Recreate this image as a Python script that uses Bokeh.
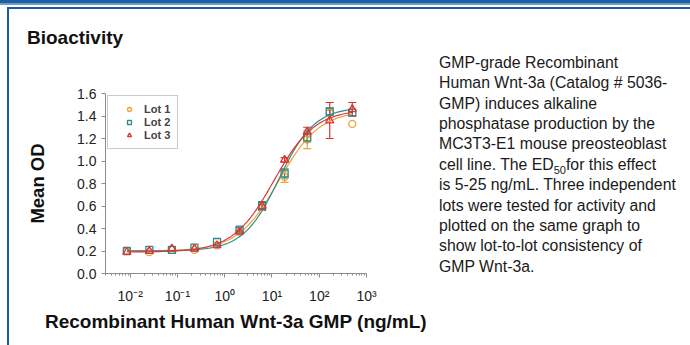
import math
import numpy as np
from bokeh.plotting import figure
from bokeh.layouts import row, column
from bokeh.models import (Range1d, FixedTicker, CustomJSTickFormatter, Div,
                          ColumnDataSource, Whisker, TeeHead, Legend, LegendItem)
from bokeh.embed import file_html
from bokeh.resources import INLINE

# ---------------- data ----------------
conc = [0.0085, 0.0254, 0.0762, 0.229, 0.686, 2.06, 6.17, 18.5, 55.6, 166.7, 500.0]
lot1 = [0.20, 0.19, 0.21, 0.21, 0.25, 0.37, 0.59, 0.86, 1.19, 1.43, 1.33]
lot2 = [0.20, 0.21, 0.21, 0.23, 0.28, 0.39, 0.60, 0.89, 1.21, 1.44, 1.43]
lot3 = [0.19, 0.20, 0.22, 0.22, 0.25, 0.37, 0.60, 1.01, 1.26, 1.36, 1.46]
err1 = [0, 0, 0, 0, 0, 0.01, 0.02, 0.05, 0.08, 0.02, 0]
err2 = [0, 0, 0, 0, 0, 0.02, 0.04, 0.04, 0.04, 0.03, 0.03]
err3 = [0, 0, 0, 0, 0, 0.01, 0.03, 0.02, 0.04, 0.16, 0.06]
# four-parameter logistic fit parameters per lot: bottom, top, EC50, Hill slope
fit1 = [0.20, 1.45, 14.0, 1.00]
fit2 = [0.20, 1.48, 14.0, 1.15]
fit3 = [0.19, 1.46, 11.0, 1.00]
lot_names = ["Lot 1", "Lot 2", "Lot 3"]
x_ticks = [0.01, 0.1, 1, 10, 100, 1000]
y_ticks = [0.0, 0.2, 0.4, 0.6, 0.8, 1.0, 1.2, 1.4, 1.6]
title_text = "Bioactivity"
x_label = "Recombinant Human Wnt-3a GMP (ng/mL)"
y_label = "Mean OD"
desc_lines = [
    "GMP-grade Recombinant",
    "Human Wnt-3a (Catalog # 5036-",
    "GMP) induces alkaline",
    "phosphatase production by the",
    "MC3T3-E1 mouse preosteoblast",
    "cell line. The ED<span style='font-size:11px;position:relative;top:4px;'>50</span>for this effect",
    "is 5-25 ng/mL. Three independent",
    "lots were tested for activity and",
    "plotted on the same graph to",
    "show lot-to-lot consistency of",
    "GMP Wnt-3a.",
]

# ---------------- geometry ----------------
W, H = 690, 345
HEAD_H = 48
STRIP_W = 10
FIG_W = 420
TEXT_W = W - STRIP_W - FIG_W
BODY_H = H - HEAD_H
FL, FR, FT, FB = 105, 366, 93, 273   # frame edges in page pixels
X_LO, X_HI = 0.003, 1000.0
Y_LO, Y_HI = 0.0, 1.6
BLUE = "#1b5ca0"
FONT = "Liberation Sans"

p = figure(width=FIG_W, height=BODY_H, x_axis_type="log", output_backend="svg", toolbar_location=None,
           x_range=Range1d(X_LO, X_HI), y_range=Range1d(Y_LO, Y_HI),
           min_border_left=FL - STRIP_W, min_border_right=STRIP_W + FIG_W - FR,
           min_border_top=FT - HEAD_H, min_border_bottom=H - FB, margin=0)
p.outline_line_color = None
p.xgrid.visible = False
p.ygrid.visible = False
p.background_fill_color = "white"
p.border_fill_color = "white"

minor = [0.003]
for k in range(-3, 3):
    for m in range(2, 10):
        v = m * 10 ** k
        if X_LO < v < X_HI:
            minor.append(v)
p.xaxis.ticker = FixedTicker(ticks=x_ticks, minor_ticks=minor)
p.xaxis.formatter = CustomJSTickFormatter(code="""
const e = Math.round(Math.log10(tick));
const sup = {'-':'\u207b','0':'\u2070','1':'\u00b9','2':'\u00b2','3':'\u00b3'};
return '10' + String(e).split('').map(c => sup[c]).join('');
""")
p.yaxis.ticker = FixedTicker(ticks=y_ticks)
p.yaxis.formatter = CustomJSTickFormatter(code="return tick.toFixed(1);")

for ax in (p.xaxis[0], p.yaxis[0]):
    ax.axis_line_color = "#8c8c8c"
    ax.major_tick_line_color = "#8c8c8c"
    ax.minor_tick_line_color = "#8c8c8c"
    ax.major_label_text_font = FONT
    ax.major_label_text_color = "#222222"
    ax.major_label_text_font_size = "14px"
    ax.axis_label_text_font = FONT
    ax.axis_label_text_font_style = "bold"
    ax.axis_label_text_color = "#111111"
p.xaxis.major_tick_out = 4
p.xaxis.major_tick_in = 0
p.xaxis.minor_tick_out = 2
p.xaxis.minor_tick_in = 0
p.xaxis.major_label_standoff = 10
p.xaxis.axis_label = x_label
p.xaxis.axis_label_text_font_size = "19px"
p.xaxis.axis_label_standoff = 4
p.yaxis.major_tick_out = 4
p.yaxis.major_tick_in = 0
p.yaxis.minor_tick_line_color = None
p.yaxis.major_label_standoff = 5
p.yaxis.axis_label = y_label
p.yaxis.axis_label_text_font_size = "18.5px"
p.yaxis.axis_label_standoff = 26

colors = ["#E8A43A", "#2C8C8C", "#E03434"]
lots = [lot1, lot2, lot3]
errs = [err1, err2, err3]
fits = [fit1, fit2, fit3]
markers = ["circle", "square", "triangle"]
sizes = [7, 7, 8]

xs_fit = np.logspace(math.log10(conc[0]), math.log10(conc[-1]), 200)
scat = []
for lot, err, fit, col, mk, sz in zip(lots, errs, fits, colors, markers, sizes):
    bottom, top, ec50, hill = fit
    ys_fit = top + (bottom - top) / (1 + (xs_fit / ec50) ** hill)
    p.line(xs_fit, ys_fit, line_color=col, line_width=1.2)
    idx = [i for i, e in enumerate(err) if e > 0]
    src = ColumnDataSource(dict(x=[conc[i] for i in idx],
                                lo=[lot[i] - err[i] for i in idx],
                                hi=[lot[i] + err[i] for i in idx]))
    w = Whisker(base="x", lower="lo", upper="hi", source=src, line_color=col, line_width=1.2,
                upper_head=TeeHead(size=8, line_color=col, line_width=1.2),
                lower_head=TeeHead(size=8, line_color=col, line_width=1.2))
    p.add_layout(w)
    r = p.scatter(conc, lot, marker=mk, size=sz, fill_color=None, line_color=col, line_width=1.3)
    scat.append(r)

legend = Legend(items=[LegendItem(label=n, renderers=[r]) for n, r in zip(lot_names, scat)],
                location="top_left", margin=2, padding=7, spacing=1,
                label_height=10, glyph_height=10, glyph_width=28, label_standoff=1,
                label_text_font=FONT, label_text_font_size="11px", label_text_font_style="bold",
                border_line_color="#9a9a9a", border_line_width=1, background_fill_alpha=1)
p.add_layout(legend)

# ---------------- page decorations (HTML) ----------------
def bar(l, t, w, h, c):
    return (f"<div style='position:absolute;left:{l}px;top:{t}px;width:{w}px;height:{h}px;"
            f"background:{c};'></div>")

head_html = (
    f"<div style='position:relative;width:{W}px;height:{HEAD_H}px;overflow:hidden;'>"
    + bar(0, 0, W, 3, "#1d5f9e") + bar(0, 3, W, 2, "#6f9bc6")
    + bar(7, 7, W - 7, 2, BLUE) + bar(7, 7, 2, HEAD_H - 7, BLUE)
    + f"<div style=\"position:absolute;left:27px;top:27px;font-family:'{FONT}',Arial,sans-serif;"
      f"font-size:19px;font-weight:bold;color:#111;line-height:22px;white-space:nowrap;\">{title_text}</div>"
    + "</div>"
)
header = Div(text=head_html, width=W, height=HEAD_H, margin=0)

strip = Div(text=f"<div style='position:relative;width:{STRIP_W}px;height:{BODY_H}px;'>"
                 + bar(7, 0, 2, BODY_H, BLUE) + "</div>",
            width=STRIP_W, height=BODY_H, margin=0)

LS = 20.4
TY0 = 63 - HEAD_H - LS / 2
lines_html = "".join(
    f"<div style='position:absolute;left:9px;top:{TY0 + LS * i:.1f}px;height:{LS}px;"
    f"line-height:{LS}px;white-space:nowrap;'>{ln}</div>"
    for i, ln in enumerate(desc_lines))
text_div = Div(text=(f"<div style=\"position:relative;width:{TEXT_W}px;height:{BODY_H}px;"
                     f"font-family:'{FONT}',Arial,sans-serif;font-size:15.8px;color:#1a1a1a;\">"
                     + lines_html + "</div>"),
               width=TEXT_W, height=BODY_H, margin=0)

layout = column(header, row(strip, p, text_div, spacing=0, margin=0), spacing=0, margin=0)

open("out.html", "w").write(file_html(layout, INLINE))
